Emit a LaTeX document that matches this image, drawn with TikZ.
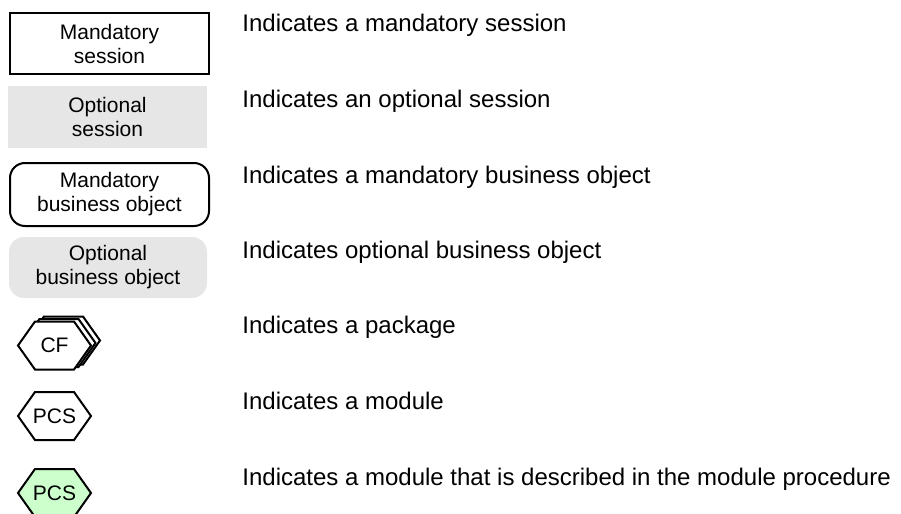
\documentclass[tikz,border=0pt]{standalone}
\usepackage{fontspec}
\setmainfont{Liberation Sans}
\begin{document}
\begin{tikzpicture}[x=0.5pt,y=-0.5pt,
  symtext/.style={font=\fontsize{10.5}{12}\selectfont, align=center, inner sep=0pt},
  mandbox/.style={symtext, draw=black, line width=1pt},
  optbox/.style={symtext, fill=optgray},
  desc/.style={font=\fontsize{12}{14}\selectfont, anchor=base west, inner sep=0pt},
  hexa/.pic={\path[pic actions, line width=1pt, line join=miter]
     (-36.5,0) -- (-19.5,-24) -- (19.5,-24) -- (36.5,0) -- (19.5,24) -- (-19.5,24) -- cycle;},
]
\definecolor{optgray}{RGB}{230,230,230}
\definecolor{modgreen}{RGB}{204,255,204}
\useasboundingbox (0,0) rectangle (901,514);

% legend symbols
\node[mandbox, minimum width=99.5pt, minimum height=30.5pt] (b1) at (109.5,43.5) {Mandatory\\session};
\node[optbox, minimum width=99.5pt, minimum height=31pt] (b2) at (107.5,117) {Optional\\session};
\node[mandbox, rounded corners=7.5pt, minimum width=99.5pt, minimum height=31.5pt] (b3) at (109.5,194.5) {Mandatory\\business object};
\node[optbox, rounded corners=7.5pt, minimum width=99pt, minimum height=30.5pt] (b4) at (108,267.5) {Optional\\business object};

% package (stacked hexagons)
\pic[draw=black, fill=white] at (63.5,340.5) {hexa};
\pic[draw=black, fill=white] at (59,343) {hexa};
\pic[draw=black, fill=white] at (54.5,345.5) {hexa};
\node[symtext] (h1) at (54.5,345.5) {CF};

% module
\pic[draw=black, fill=white] at (54.5,416) {hexa};
\node[symtext] (h2) at (54.5,416) {PCS};

% described module
\pic[draw=black, fill=modgreen] at (54.5,493) {hexa};
\node[symtext] (h3) at (54.5,493) {PCS};

% descriptions
\node[desc] (t1) at (242,31.7) {Indicates a mandatory session};
\node[desc] (t2) at (242,107.3) {Indicates an optional session};
\node[desc] (t3) at (242,183.6) {Indicates a mandatory business object};
\node[desc] (t4) at (242,258.7) {Indicates optional business object};
\node[desc] (t5) at (242,333.8) {Indicates a package};
\node[desc] (t6) at (242,409.6) {Indicates a module};
\node[desc] (t7) at (242,485.3) {Indicates a module that is described in the module procedure};
\end{tikzpicture}
\end{document}
